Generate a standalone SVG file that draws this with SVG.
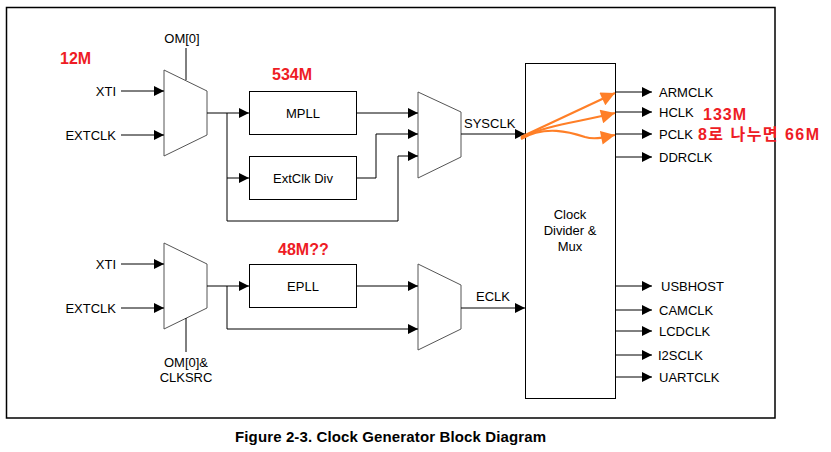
<svg xmlns="http://www.w3.org/2000/svg" width="831" height="452" viewBox="0 0 831 452">
<defs>
<marker id="ah" viewBox="0 0 10 10" refX="10" refY="5" markerWidth="10" markerHeight="10" markerUnits="userSpaceOnUse" orient="auto">
<path d="M0,0 L10,5 L0,10 z" fill="#000"/>
</marker>
<marker id="oh" viewBox="0 0 10 10" refX="10" refY="5" markerWidth="15" markerHeight="14" markerUnits="userSpaceOnUse" orient="auto">
<path d="M0,0 L10,5 L0,10 z" fill="#FF7F27"/>
</marker>
</defs>
<style>
.t{font-family:"Liberation Sans",Arial,sans-serif;font-size:13px;fill:#000}
.m{text-anchor:middle}
.e{text-anchor:end}
.r{font-family:"Liberation Sans","Noto Sans CJK KR",sans-serif;font-size:16px;font-weight:bold;fill:#EE1C25}
.box{fill:#fff;stroke:#000;stroke-width:1}
.mux{fill:#fff;stroke:#555;stroke-width:1}
.w{fill:none;stroke:#000;stroke-width:1}
.a{fill:none;stroke:#000;stroke-width:1;marker-end:url(#ah)}
.o{fill:none;stroke:#FF7F27;stroke-width:2.2;marker-end:url(#oh)}
</style>
<rect x="0" y="0" width="831" height="452" fill="#fff"/>
<rect x="6.5" y="7.5" width="768.5" height="410.5" fill="none" stroke="#000" stroke-width="1.5"/>

<g id="mux1"><path class="mux" d="M164,70 L207,91 V135 L164,156 Z"/></g>
<g id="mux2"><path class="mux" d="M418,92 L461,112 V157 L418,178 Z"/></g>
<g id="mux3"><path class="mux" d="M164,243 L207,264 V308 L164,329 Z"/></g>
<g id="mux4"><path class="mux" d="M418,264 L461,285 V329 L418,350 Z"/></g>

<g id="mpll"><rect class="box" x="249.5" y="91.5" width="107" height="43"/><text class="t m" x="303" y="118">MPLL</text></g>
<g id="extclkdiv"><rect class="box" x="249.5" y="156.5" width="107" height="43"/><text class="t m" x="303" y="183">ExtClk Div</text></g>
<g id="epll"><rect class="box" x="249.5" y="264.5" width="107" height="43"/><text class="t m" x="303" y="291">EPLL</text></g>
<g id="divider"><rect class="box" x="525.5" y="63.5" width="90" height="335"/>
<text class="t m" x="570" y="219">Clock</text><text class="t m" x="570" y="235">Divider &amp;</text><text class="t m" x="570" y="251">Mux</text></g>

<g id="connectors">
<path class="a" d="M121,91 H164"/>
<path class="a" d="M121,135 H164"/>
<path class="w" d="M186,48 V80"/>
<path class="a" d="M207,113 H249"/>
<path class="a" d="M227,113 V178 H249"/>
<path class="a" d="M227,178 V221 H398 V156 H418"/>
<path class="a" d="M356,113 H418"/>
<path class="a" d="M356,178 H376 V134 H418"/>
<path class="a" d="M461,134 H525"/>
<path class="a" d="M121,264 H164"/>
<path class="a" d="M121,308 H164"/>
<path class="w" d="M186,318 V352"/>
<path class="a" d="M207,286 H249"/>
<path class="a" d="M227,286 V329 H418"/>
<path class="a" d="M356,286 H418"/>
<path class="a" d="M461,308 H525"/>
<path class="a" d="M615,92 H652"/>
<path class="a" d="M615,112 H652"/>
<path class="a" d="M615,134 H652"/>
<path class="a" d="M615,157 H652"/>
<path class="a" d="M615,286 H652"/>
<path class="a" d="M615,310 H652"/>
<path class="a" d="M615,331 H652"/>
<path class="a" d="M615,355 H652"/>
<path class="a" d="M615,377 H652"/>
<path class="o" d="M521,137 L615,93"/>
<path class="o" d="M521,138 C545,125 580,122 615,113"/>
<path class="o" d="M521,139 C545,125 570,132 585,137 C595,140 605,137 615,135"/>
</g>

<g id="labels">
<text class="t m" x="182" y="43">OM[0]</text>
<text class="t e" x="116" y="96">XTI</text>
<text class="t e" x="116" y="140">EXTCLK</text>
<text class="t e" x="116" y="269">XTI</text>
<text class="t e" x="116" y="313">EXTCLK</text>
<text class="t m" x="186" y="367">OM[0]&amp;</text>
<text class="t m" x="186" y="382">CLKSRC</text>
<text class="t" x="464" y="128">SYSCLK</text>
<text class="t" x="476" y="301">ECLK</text>
<text class="t" x="659" y="97">ARMCLK</text>
<text class="t" x="659" y="117">HCLK</text>
<text class="t" x="659" y="139">PCLK</text>
<text class="t" x="659" y="162">DDRCLK</text>
<text class="t" x="661" y="291">USBHOST</text>
<text class="t" x="659" y="315">CAMCLK</text>
<text class="t" x="659" y="336">LCDCLK</text>
<text class="t" x="658" y="360">I2SCLK</text>
<text class="t" x="659" y="382">UARTCLK</text>
</g>

<g id="notes">
<text class="r" x="60" y="64">12M</text>
<text class="r" x="272" y="80">534M</text>
<text class="r" x="278" y="255">48M??</text>
<text class="r" x="703" y="120" textLength="43">133M</text>
<text class="r" x="698" y="140" textLength="121">8로 나누면 66M</text>
</g>

<text x="235" y="442" textLength="311" font-family="'Liberation Sans',Arial,sans-serif" font-size="15" font-weight="bold">Figure 2-3. Clock Generator Block Diagram</text>
</svg>
